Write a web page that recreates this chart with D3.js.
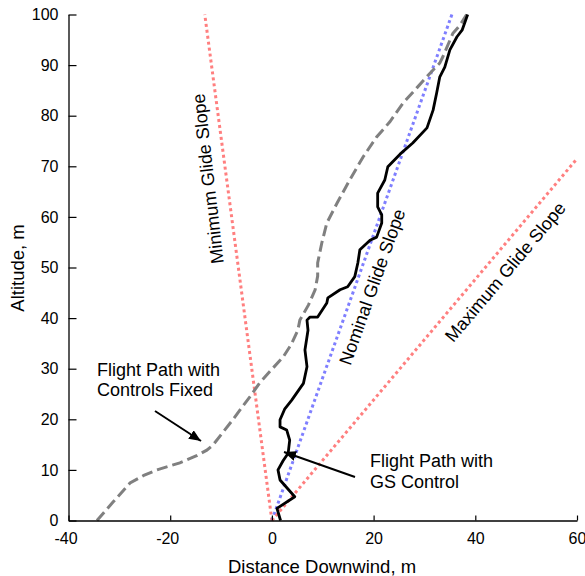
<!DOCTYPE html>
<html>
<head>
<meta charset="utf-8">
<script src="https://cdn.jsdelivr.net/npm/d3@7"></script>
<style>
  html, body { margin: 0; padding: 0; background: #fff; }
  svg { display: block; font-family: "Liberation Sans", Arial, Helvetica, sans-serif; }
</style>
</head>
<body>
<svg id="chart" width="585" height="576"></svg>
<script>
// Axis ticks
const xTicks = [-40, -20, 0, 20, 40, 60];
const yTicks = [0, 10, 20, 30, 40, 50, 60, 70, 80, 90, 100];

// Glide slope boundaries (distance, altitude endpoints)
const minSlopeX = [0, -13.2];
const minSlopeY = [0, 100];
const nomSlopeX = [0, 35.4];
const nomSlopeY = [0, 100];
const maxSlopeX = [0, 60];
const maxSlopeY = [0, 71.5];

// Flight path with controls fixed
const fixedX = [-34.4, -31.2, -27.9, -25.2, -22.6, -18.1, -14.8, -12.8, -11.6, -9.8, -7.7, -6.3, -4.3, -2.4, 0, 2.2, 3.8, 5.1, 5.5, 7.2, 8.5, 9.0, 9.0, 9.8, 10.8, 12.8, 15.3, 17.9, 20.6, 23.2, 25.8, 28.5, 31.1, 33.0, 33.6, 35.6, 37.0, 38.3];
const fixedY = [0, 3.7, 7.4, 8.9, 10.0, 11.4, 12.8, 13.9, 14.9, 17.2, 19.9, 21.8, 24.5, 27.2, 29.9, 32.3, 34.8, 37.6, 39.6, 42.6, 45.6, 48.3, 50.9, 54.8, 58.8, 62.7, 67.3, 71.8, 75.8, 78.8, 82.5, 85.5, 88.4, 90.4, 91.6, 96.3, 97.9, 100];

// Flight path with glide slope control
const gsX = [1.7, 1.0, 4.5, 1.6, 1.2, 2.2, 3.2, 3.5, 2.9, 1.6, 1.6, 2.5, 3.9, 6.2, 6.9, 6.5, 7.1, 6.9, 7.5, 9.0, 10.8, 11.0, 13.4, 14.9, 16.3, 16.9, 17.3, 19.3, 20.6, 21.6, 21.6, 20.8, 20.8, 22.2, 22.8, 25.2, 27.7, 30.5, 31.7, 32.4, 33.0, 34.0, 35.0, 36.4, 37.4, 38.5];
const gsY = [0, 2.4, 4.7, 8.0, 10.0, 11.8, 13.3, 15.9, 17.9, 18.5, 19.9, 22.0, 23.8, 27.1, 30.4, 33.7, 37.6, 39.6, 40.2, 40.2, 43.0, 44.0, 45.6, 46.2, 48.2, 50.9, 53.5, 55.4, 56.0, 58.8, 60.4, 62.0, 64.7, 67.3, 69.9, 72.4, 74.6, 77.6, 81.1, 84.5, 87.6, 89.6, 93.0, 95.6, 96.9, 100];

const svg = d3.select("#chart");
const x = d3.scaleLinear().domain([-40, 60]).range([68.5, 577]);
const y = d3.scaleLinear().domain([0, 100]).range([520.5, 14.5]);

const zip = (xs, ys) => xs.map((v, i) => [v, ys[i]]);
const line = d3.line().x(d => x(d[0])).y(d => y(d[1]));

// Arrowhead marker
svg.append("defs").append("marker")
  .attr("id", "head").attr("viewBox", "0 0 12 10")
  .attr("refX", 12).attr("refY", 5)
  .attr("markerWidth", 12).attr("markerHeight", 10)
  .attr("markerUnits", "userSpaceOnUse")
  .attr("orient", "auto")
  .append("path").attr("d", "M0,0 L12,5 L0,10 Z").attr("fill", "#000");

// Glide slopes
const slopes = [
  { xs: minSlopeX, ys: minSlopeY, color: "#ff7f7f" },
  { xs: nomSlopeX, ys: nomSlopeY, color: "#7f7fff" },
  { xs: maxSlopeX, ys: maxSlopeY, color: "#ff7f7f" }
];
slopes.forEach(s => {
  svg.append("path").attr("d", line(zip(s.xs, s.ys)))
    .attr("fill", "none").attr("stroke", s.color)
    .attr("stroke-width", 3).attr("stroke-dasharray", "3,3");
});

// Controls-fixed path
svg.append("path").attr("d", line(zip(fixedX, fixedY)))
  .attr("fill", "none").attr("stroke", "#808080")
  .attr("stroke-width", 3).attr("stroke-dasharray", "11,5");

// GS control path
svg.append("path").attr("d", line(zip(gsX, gsY)))
  .attr("fill", "none").attr("stroke", "#000")
  .attr("stroke-width", 2.8).attr("stroke-linejoin", "round");

// Axes (plain hyphen for negative labels)
const fmt = d => String(d);
const xAxis = d3.axisBottom(x).tickValues(xTicks).tickFormat(fmt).tickSizeInner(-5).tickSizeOuter(0).tickPadding(12);
const yAxis = d3.axisLeft(y).tickValues(yTicks).tickFormat(fmt).tickSizeInner(-8).tickSizeOuter(0).tickPadding(10);

const gx = svg.append("g").attr("transform", `translate(0,${y(0)})`).call(xAxis);
const gy = svg.append("g").attr("transform", `translate(${x(-40)},0)`).call(yAxis);
[gx, gy].forEach(g => {
  g.select(".domain").attr("stroke", "#000").attr("stroke-width", 1.3);
  g.selectAll(".tick line").attr("stroke", "#000").attr("stroke-width", 1.2);
  g.selectAll(".tick text").attr("fill", "#000")
    .style("font-size", "16px").style("font-family", '"Liberation Sans", Arial, sans-serif');
});
gx.selectAll(".tick text").attr("dx", d => d < 0 ? -3 : 0);

// Axis titles
svg.append("text").attr("x", 322).attr("y", 573).attr("text-anchor", "middle")
  .style("font-size", "18.5px").text("Distance Downwind, m");
svg.append("text").attr("transform", "translate(24,268) rotate(-90)").attr("text-anchor", "middle")
  .style("font-size", "18.5px").text("Altitude, m");

// Slope labels
svg.append("text").attr("transform", "translate(214,178) rotate(-96.5)").attr("text-anchor", "middle")
  .style("font-size", "18px").text("Minimum Glide Slope");
svg.append("text").attr("transform", "translate(378,289) rotate(-70.4)").attr("text-anchor", "middle")
  .style("font-size", "18px").text("Nominal Glide Slope");
svg.append("text").attr("transform", "translate(510,276) rotate(-49.9)").attr("text-anchor", "middle")
  .style("font-size", "18px").text("Maximum Glide Slope");

// Callouts
const fixedLabel = svg.append("text").attr("x", 97).attr("y", 376).style("font-size", "18px");
fixedLabel.append("tspan").attr("x", 97).text("Flight Path with");
fixedLabel.append("tspan").attr("x", 97).attr("dy", 20).text("Controls Fixed");

const gsLabel = svg.append("text").attr("x", 370).attr("y", 467).style("font-size", "18px");
gsLabel.append("tspan").attr("x", 370).text("Flight Path with");
gsLabel.append("tspan").attr("x", 370).attr("dy", 21).text("GS Control");

svg.append("line").attr("x1", 155).attr("y1", 411).attr("x2", 201).attr("y2", 441)
  .attr("stroke", "#000").attr("stroke-width", 2).attr("marker-end", "url(#head)");
svg.append("line").attr("x1", 355).attr("y1", 477).attr("x2", 284).attr("y2", 452)
  .attr("stroke", "#000").attr("stroke-width", 2).attr("marker-end", "url(#head)");
</script>
</body>
</html>
